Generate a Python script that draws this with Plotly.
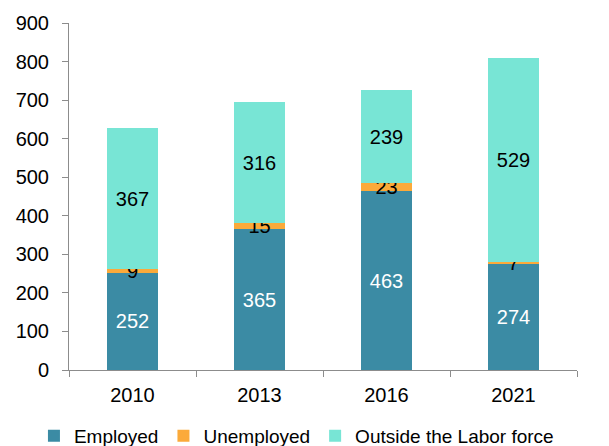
import plotly.graph_objects as go

years = ["2010", "2013", "2016", "2021"]
employed = [252, 365, 463, 274]
unemployed = [9, 15, 23, 7]
outside = [367, 316, 239, 529]

font = "Liberation Sans, Arial, sans-serif"
FS = 20

fig = go.Figure()
fig.add_trace(go.Bar(name="Employed", x=years, y=employed, marker_color="#3B8BA4",
                     text=employed, textfont=dict(color="white", size=FS, family=font)))
fig.add_trace(go.Bar(name="Unemployed", x=years, y=unemployed, marker_color="#FBAA3A",
                     text=unemployed, textfont=dict(color="black", size=FS, family=font)))
fig.add_trace(go.Bar(name="Outside the Labor force", x=years, y=outside, marker_color="#78E5D5",
                     text=outside, textfont=dict(color="black", size=FS, family=font)))

fig.update_traces(marker_line_width=0, cliponaxis=False, textposition="inside",
                  insidetextanchor="middle", constraintext="none", textangle=0)
fig.update_layout(
    barmode="stack",
    bargap=0.6,
    width=601, height=460,
    margin=dict(l=61, r=32, t=15, b=98),
    plot_bgcolor="white", paper_bgcolor="white",
    font=dict(family=font, size=FS, color="black"),
    legend=dict(orientation="h", x=-0.069, xanchor="left", y=-0.135, yanchor="top",
                font=dict(size=19), traceorder="normal", itemwidth=30, tracegroupgap=0),
    showlegend=True,
)
fig.update_yaxes(range=[0, 900], dtick=100, showgrid=False, showline=True,
                 linecolor="#8c8c8c", linewidth=1, ticks="outside", ticklen=6,
                 tickcolor="#8c8c8c", zeroline=False, tickfont=dict(size=FS),
                 ticklabelstandoff=9, automargin=False)
fig.update_xaxes(showline=True, linecolor="#8c8c8c", linewidth=1, ticks="outside",
                 tickson="boundaries", ticklen=6, tickcolor="#8c8c8c",
                 tickfont=dict(size=FS), ticklabelstandoff=7, automargin=False)

fig.write_html("out.html")
